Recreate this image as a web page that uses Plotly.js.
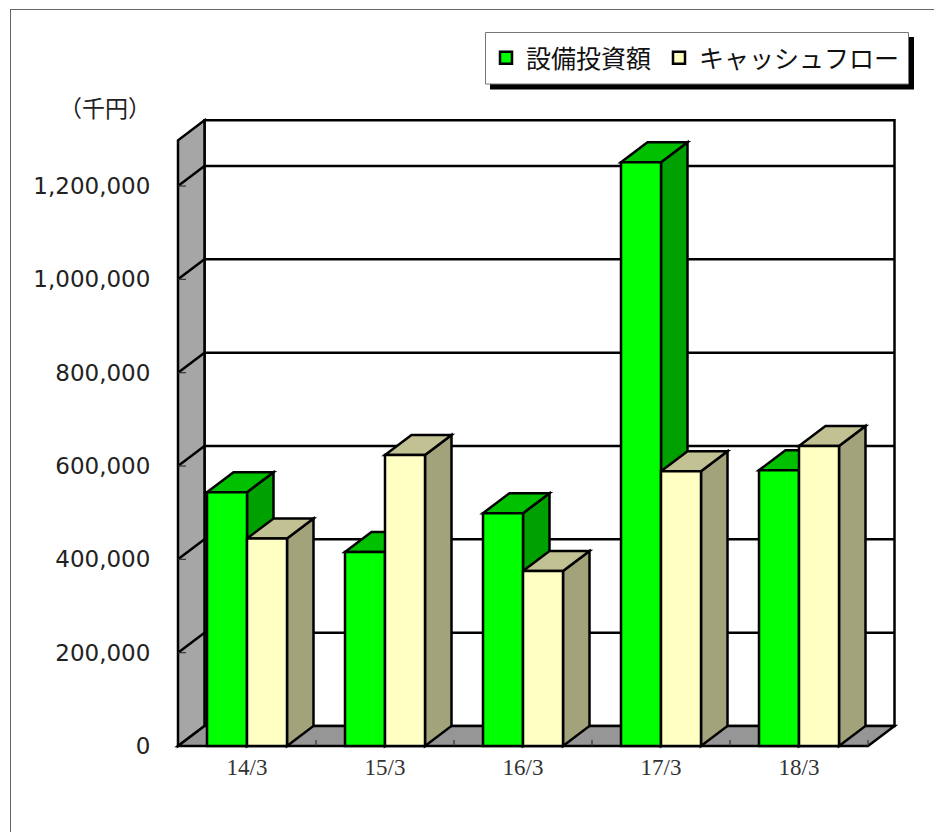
<!DOCTYPE html>
<html><head><meta charset="utf-8">
<script src="https://cdn.plot.ly/plotly-3.0.1.min.js"></script>
<style>html,body{margin:0;padding:0;background:#fff}#c{width:934px;height:832px}</style>
</head><body><div id="c"></div>
<script>
const categories = ['14/3','15/3','16/3','17/3','18/3'];
const capex = [544000,415700,499000,1251000,591000];
const cashflow = [444600,623500,375000,589000,643000];
const yTicks = [0,200000,400000,600000,800000,1000000,1200000];
const yTickText = ['0','200,000','400,000','600,000','800,000','1,000,000','1,200,000'];
const seriesNames = ['設備投資額','キャッシュフロー'];
const wallTop = 1298000;

const W=934,H=832, L=170,R=32,T=110,B=81;
const PW=W-L-R, PH=H-T-B;
const pxPerCat=138, pxPerVal=93.33/200000;
const x0px=178, y0px=746;
const xMin=-0.5-(x0px-L)/pxPerCat, xMax=xMin+PW/pxPerCat;
const yMin=-(H-B-y0px)/pxPerVal, yMax=yMin+PH/pxPerVal;
const dx=26.5/pxPerCat, dy=20/pxPerVal;
const barW=40/pxPerCat;
const LW=2.5;
const px=p=>(p-L)/PW, py=p=>(H-B-p)/PH;
const xL=-0.5, xR=4.5;

const shapes=[];
function poly(pts,fill,lw){
  shapes.push({type:'path',xref:'x',yref:'y',layer:'below',
    path:'M'+pts.map(p=>p[0]+','+p[1]).join('L')+'Z',
    fillcolor:fill,line:{color:'#000',width:lw===undefined?LW:lw}});
}
function seg(a,b,w,c){
  shapes.push({type:'line',xref:'x',yref:'y',layer:'below',x0:a[0],y0:a[1],x1:b[0],y1:b[1],
    line:{color:c||'#000',width:w}});
}
// back wall, side wall and floor
poly([[xL+dx,dy],[xR+dx,dy],[xR+dx,wallTop+dy],[xL+dx,wallTop+dy]],'#fff');
poly([[xL,0],[xL+dx,dy],[xL+dx,wallTop+dy],[xL,wallTop]],'#A6A6A6');
poly([[xL,0],[xR,0],[xR+dx,dy],[xL+dx,dy]],'#969696');
yTicks.forEach(v=>{
  if(v>0){
    seg([xL,v],[xL+dx,v+dy],LW);
    seg([xL+dx,v+dy],[xR+dx,v+dy],LW);
    seg([xL,v],[xL+8/pxPerCat,v],1.2,'#333');
  }
});
categories.forEach((c,i)=>{ seg([i+0.5,0],[i+0.5,6/pxPerVal],1.2,'#333'); });
// tops and sides of each block, back to front
categories.forEach((c,i)=>{
  const a=i-barW, b=i, d=i+barW;
  poly([[b,0],[b+dx,dy],[b+dx,capex[i]+dy],[b,capex[i]]],'#00A000');
  poly([[a,capex[i]],[b,capex[i]],[b+dx,capex[i]+dy],[a+dx,capex[i]+dy]],'#00C000');
  poly([[d,0],[d+dx,dy],[d+dx,cashflow[i]+dy],[d,cashflow[i]]],'#A3A37B');
  poly([[b,cashflow[i]],[d,cashflow[i]],[d+dx,cashflow[i]+dy],[b+dx,cashflow[i]+dy]],'#C1C193');
});
// page frame, legend shadow and legend box
shapes.push({type:'line',xref:'paper',yref:'paper',layer:'below',x0:px(10),y0:py(9.5),x1:px(934),y1:py(9.5),line:{color:'#666',width:1}});
shapes.push({type:'line',xref:'paper',yref:'paper',layer:'below',x0:px(10.5),y0:py(9),x1:px(10.5),y1:py(832),line:{color:'#666',width:1}});
shapes.push({type:'rect',xref:'paper',yref:'paper',layer:'below',x0:px(490),y0:py(37),x1:px(914),y1:py(89.5),fillcolor:'#000',line:{width:0}});
shapes.push({type:'rect',xref:'paper',yref:'paper',layer:'below',x0:px(485.5),y0:py(32.5),x1:px(908.5),y1:py(84),fillcolor:'#fff',line:{color:'#777',width:1}});

const idx=categories.map((c,i)=>i);
const traces=[
 {type:'bar',name:seriesNames[0],x:idx,y:capex,legendwidth:128,marker:{color:'#00FF00',line:{color:'#000',width:LW}},hoverinfo:'x+y'},
 {type:'bar',name:seriesNames[1],x:idx,y:cashflow,marker:{color:'#FFFFC4',line:{color:'#000',width:LW}},hoverinfo:'x+y'}
];
const layout={
  width:W,height:H,margin:{l:L,r:R,t:T,b:B,pad:0},
  paper_bgcolor:'#fff',plot_bgcolor:'rgba(0,0,0,0)',
  barmode:'group',bargap:1-2*barW,bargroupgap:0,
  showlegend:true,
  legend:{orientation:'h',x:px(486),y:py(35),xanchor:'left',yanchor:'top',
    bgcolor:'rgba(0,0,0,0)',borderwidth:0,itemwidth:30,traceorder:'normal',
    font:{family:'"Noto Sans CJK JP",sans-serif',size:25,color:'#111'}},
  xaxis:{type:'linear',range:[xMin,xMax],tickmode:'array',tickvals:idx,ticktext:categories,
    showgrid:false,zeroline:false,showline:false,ticks:'',
    tickfont:{family:'"Liberation Serif",serif',size:23,color:'#333'},automargin:false},
  yaxis:{type:'linear',range:[yMin,yMax],tickmode:'array',tickvals:yTicks,ticktext:yTickText,
    showgrid:false,zeroline:false,showline:false,ticks:'outside',ticklen:14,tickcolor:'rgba(0,0,0,0)',
    tickfont:{family:'"DejaVu Sans",sans-serif',size:23,color:'#222'},automargin:false},
  shapes:shapes,
  annotations:[{xref:'paper',yref:'paper',x:px(105),y:py(107),xanchor:'center',yanchor:'middle',showarrow:false,
    text:'（千円）',font:{family:'"Noto Sans CJK JP",sans-serif',size:23,color:'#222'}}]
};
Plotly.newPlot('c',traces,layout,{displayModeBar:false,responsive:false});
</script></body></html>
